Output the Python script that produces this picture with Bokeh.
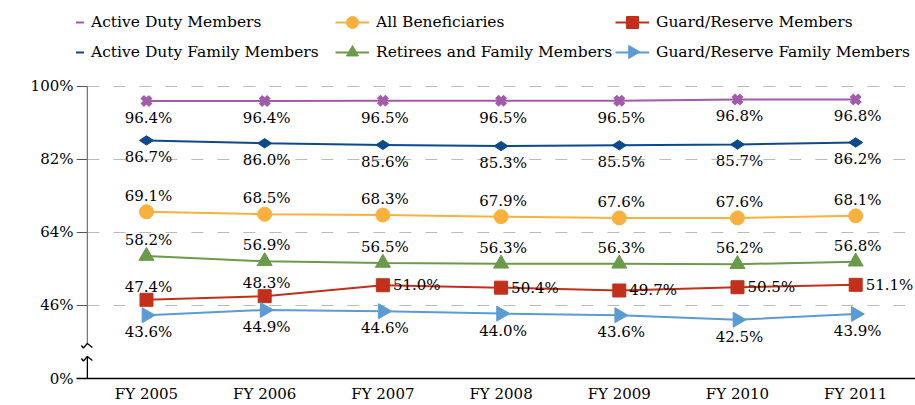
import math
from bokeh.plotting import figure
from bokeh.models import Range1d, FixedTicker, Legend, LegendItem, Label
from bokeh.core.properties import value
from bokeh.embed import file_html
from bokeh.resources import INLINE

# ---------------- data ----------------
years = ["FY 2005", "FY 2006", "FY 2007", "FY 2008", "FY 2009", "FY 2010", "FY 2011"]
active_duty = [96.4, 96.4, 96.5, 96.5, 96.5, 96.8, 96.8]
active_duty_family = [86.7, 86.0, 85.6, 85.3, 85.5, 85.7, 86.2]
all_beneficiaries = [69.1, 68.5, 68.3, 67.9, 67.6, 67.6, 68.1]
retirees_family = [58.2, 56.9, 56.5, 56.3, 56.3, 56.2, 56.8]
guard_reserve = [47.4, 48.3, 51.0, 50.4, 49.7, 50.5, 51.1]
guard_reserve_family = [43.6, 44.9, 44.6, 44.0, 43.6, 42.5, 43.9]
y_tick_values = [0, 46, 64, 82, 100]
y_tick_labels = ["0%", "46%", "64%", "82%", "100%"]

# ---------------- layout helpers ----------------
FONT = "DejaVu Serif"
FS = "15px"
AXIS_FLOOR = 28          # plotted position of 0% (broken axis)
X0, X1 = -0.592, 6.506
PX_X = 1 / 118.2         # data units per px (x)
PX_Y = 1 / 4.0556        # data units per px (y)
FRAME_L, FRAME_B = 76, 378
Y_TOP = AXIS_FLOOR + FRAME_B * PX_Y


def ypos(v):
    return v if v >= AXIS_FLOOR else AXIS_FLOOR


def sx_to_data(px):
    return X0 + (px - FRAME_L) * PX_X


def sy_to_data(py):
    return AXIS_FLOOR + (FRAME_B - py) * PX_Y


xs = list(range(len(years)))

p = figure(width=915, height=405, x_range=Range1d(X0, X1), y_range=Range1d(AXIS_FLOOR, Y_TOP),
           output_backend="svg", toolbar_location=None,
           min_border_left=FRAME_L, min_border_right=0, min_border_top=0, min_border_bottom=27)
p.outline_line_color = None
p.xgrid.visible = False
p.ygrid.visible = False
p.background_fill_color = "white"
p.border_fill_color = "white"

# y axis (labels only, line drawn by hand for the break)
yt = [ypos(v) for v in y_tick_values]
p.yaxis.ticker = FixedTicker(ticks=yt)
p.yaxis.major_label_overrides = {t: l for t, l in zip(yt, y_tick_labels)}
p.yaxis.axis_line_color = None
p.yaxis.major_tick_line_color = None
p.yaxis.minor_tick_line_color = None
p.yaxis.major_tick_out = 0
p.yaxis.major_tick_in = 0
p.yaxis.major_label_standoff = 3
p.yaxis.major_label_text_font = FONT
p.yaxis.major_label_text_font_size = FS
p.yaxis.major_label_text_color = "black"

# x axis
p.xaxis.ticker = FixedTicker(ticks=xs)
p.xaxis.major_label_overrides = {i: y for i, y in zip(xs, years)}
p.xaxis.axis_line_color = "black"
p.xaxis.axis_line_width = 1.3
p.xaxis.major_tick_line_color = None
p.xaxis.minor_tick_line_color = None
p.xaxis.major_tick_out = 0
p.xaxis.major_tick_in = 0
p.xaxis.major_label_standoff = 6
p.xaxis.major_label_text_font = FONT
p.xaxis.major_label_text_font_size = FS
p.xaxis.major_label_text_color = "black"

# grid lines (dashed) from the axis to the right edge
grid_vals = [v for v in yt if v > AXIS_FLOOR]
p.segment(x0=[-0.5] * len(grid_vals), x1=[X1] * len(grid_vals), y0=grid_vals, y1=grid_vals,
          line_color="#BBBBBB", line_width=1, line_dash="12 14", level="underlay")
# tick marks
p.segment(x0=[X0] * len(grid_vals), x1=[-0.5] * len(grid_vals), y0=grid_vals, y1=grid_vals,
          line_color="#555555", line_width=1.2)

# y axis line with a break
up_apex = 100 - 257 * PX_Y
lo_apex = 100 - 270 * PX_Y
p.line([-0.5, -0.5], [100, up_apex], line_color="#777777", line_width=1.3)
p.line([-0.5, -0.5], [lo_apex, AXIS_FLOOR], line_color="black", line_width=1.3)
caret = [(-6, 2), (-4, 4.5), (0, 0), (5, 4)]
for apex in (up_apex, lo_apex):
    p.line([-0.5 + cx * PX_X for cx, cy in caret], [apex - cy * PX_Y for cx, cy in caret],
           line_color="black", line_width=1.3)

# y axis title
p.add_layout(Label(x=-59, y=168, x_units="screen", y_units="screen",
                   text="Percent with Access to Prime", angle=math.pi / 2,
                   text_align="center", text_baseline="middle",
                   text_font=FONT, text_font_size="14px", text_color="black"))

series = [
    ("Active Duty Members", active_duty, "#A25BA8", "x", 12, 0.0, 5, "below"),
    ("Active Duty Family Members", active_duty_family, "#0C4A8B", "diamond", 14, math.pi / 2, 1, "below"),
    ("All Beneficiaries", all_beneficiaries, "#FAB03C", "circle", 14, 0.0, 1, "above"),
    ("Retirees and Family Members", retirees_family, "#6A9A4A", "triangle", 15, 0.0, 1, "above"),
    ("Guard/Reserve Members", guard_reserve, "#C2301C", "square", 13, 0.0, 1, "mixed"),
    ("Guard/Reserve Family Members", guard_reserve_family, "#5B9BD5", "triangle", 15, -math.pi / 2, 1, "below"),
]

# legend layout (screen px)
LEG_COLS = [50, 335, 615]       # left edge of each legend column's glyph
GLYPH_W, GLYPH_H, SPACING = 34, 30, 0
LEG_TOP = 6.5
LEG_H = 2 * GLYPH_H + SPACING
col_of = {"Active Duty Members": (0, 0), "Active Duty Family Members": (0, 1),
          "All Beneficiaries": (1, 0), "Retirees and Family Members": (1, 1),
          "Guard/Reserve Members": (2, 0), "Guard/Reserve Family Members": (2, 1)}

items = {}
for name, vals, col, mk, sz, ang, lw, place in series:
    lr = p.line(xs, vals, line_color=col, line_width=2)
    sr = p.scatter(xs, vals, marker=mk, size=sz, angle=ang, fill_color=col, line_color=col, line_width=lw)
    c, r = col_of[name]
    gx = LEG_COLS[c] + GLYPH_W / 2
    gy = LEG_TOP + GLYPH_H / 2 + r * (GLYPH_H + SPACING)
    if ang != 0.0 and gx > FRAME_L + 8:
        # rotated marker: legend swatch drawn by hand so it keeps its orientation
        p.scatter([sx_to_data(gx)], [sy_to_data(gy)], marker=mk, size=13, angle=ang,
                  fill_color=col, line_color=col, level="overlay")
        items[name] = LegendItem(label=name, renderers=[lr])
    else:
        items[name] = LegendItem(label=name, renderers=[lr, sr])
    labels = [f"{v:.1f}%" for v in vals]
    kw = dict(text_font=value(FONT), text_font_size=FS, text_color="black", text_baseline="middle")
    if place == "below":
        p.text(xs, vals, text=labels, x_offset=2, y_offset=17, text_align="center", **kw)
    elif place == "above":
        p.text(xs, vals, text=labels, x_offset=2, y_offset=-16, text_align="center", **kw)
    else:
        p.text(xs[:2], vals[:2], text=labels[:2], x_offset=2, y_offset=-13, text_align="center", **kw)
        p.text(xs[2:], vals[2:], text=labels[2:], x_offset=10, y_offset=0, text_align="left", **kw)

columns = [
    ["Active Duty Members", "Active Duty Family Members"],
    ["All Beneficiaries", "Retirees and Family Members"],
    ["Guard/Reserve Members", "Guard/Reserve Family Members"],
]
for names, lx in zip(columns, LEG_COLS):
    leg = Legend(items=[items[n] for n in names],
                 location=(lx - FRAME_L, FRAME_B - LEG_TOP - LEG_H), orientation="vertical",
                 padding=0, margin=0, spacing=SPACING, glyph_width=GLYPH_W, glyph_height=GLYPH_H,
                 label_height=20, label_standoff=7, border_line_color=None,
                 background_fill_alpha=0, label_text_font=FONT, label_text_font_size="15.5px",
                 label_text_baseline="middle", label_text_color="black")
    p.add_layout(leg)

open("out.html", "w").write(file_html(p, INLINE))
